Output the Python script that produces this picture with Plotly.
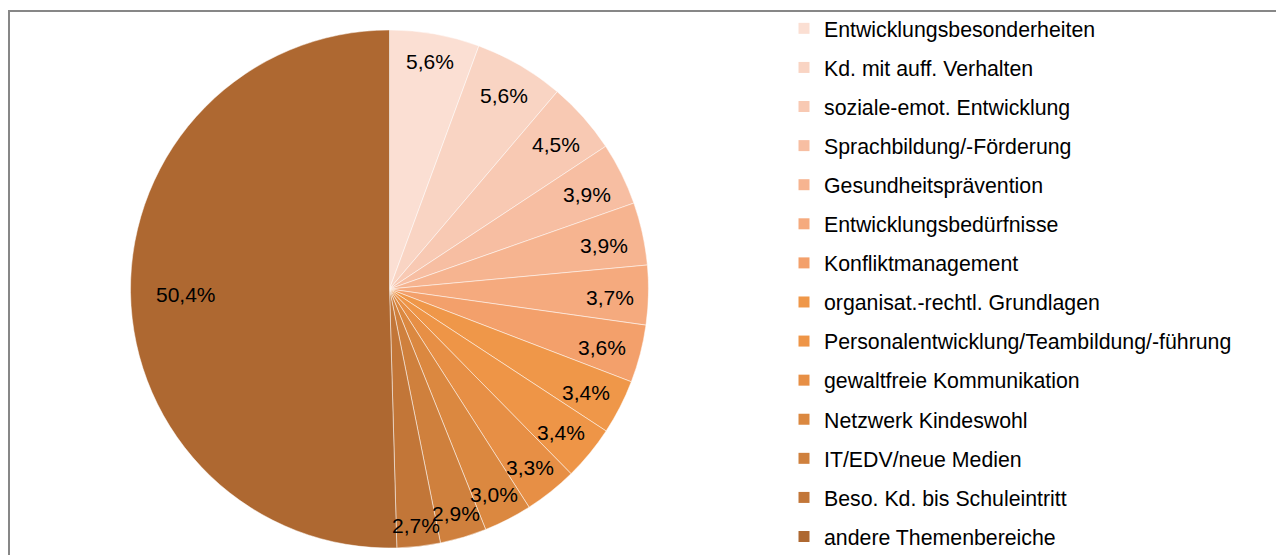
import math
import plotly.graph_objects as go

# Themenbereiche und Anteile (in %)
labels = [
    "Entwicklungsbesonderheiten",
    "Kd. mit auff. Verhalten",
    "soziale-emot. Entwicklung",
    "Sprachbildung/-Förderung",
    "Gesundheitsprävention",
    "Entwicklungsbedürfnisse",
    "Konfliktmanagement",
    "organisat.-rechtl. Grundlagen",
    "Personalentwicklung/Teambildung/-führung",
    "gewaltfreie Kommunikation",
    "Netzwerk Kindeswohl",
    "IT/EDV/neue Medien",
    "Beso. Kd. bis Schuleintritt",
    "andere Themenbereiche",
]
values = [5.6, 5.6, 4.5, 3.9, 3.9, 3.7, 3.6, 3.4, 3.4, 3.3, 3.0, 2.9, 2.7, 50.4]
colors = [
    "#FBDFD3", "#F9D4C3", "#F8C9B3", "#F7BEA2", "#F6B490", "#F5AA7E", "#F3A06B",
    "#EF9749", "#EE9547", "#E78F45", "#DB8840", "#CF803D", "#C27638", "#AE6831",
]

# page has an 8px body margin, so the figure is a bit smaller than the window
W, H = 1276, 547
FONT = "Liberation Sans, Arial, sans-serif"

# pie geometry in figure pixels
cx, cy, rad = 381.5, 281, 259

def px_x(p):
    return p / W

def px_y(p):
    return 1 - p / H

fig = go.Figure()

fig.add_trace(go.Pie(
    labels=labels,
    values=values,
    sort=False,
    direction="clockwise",
    rotation=0,
    marker=dict(colors=colors, line=dict(color="rgba(255,255,255,0.7)", width=0.7)),
    textinfo="none",
    showlegend=False,
    domain=dict(x=[px_x(cx - rad), px_x(cx + rad)], y=[px_y(cy + rad), px_y(cy - rad)]),
    hoverinfo="label+percent",
))

# legend entries (one group each so the spacing can be set)
for lab, col in zip(labels, colors):
    fig.add_trace(go.Scatter(
        x=[None], y=[None],
        mode="markers",
        name=lab,
        legendgroup=lab,
        marker=dict(symbol="square", size=11, color=col),
        showlegend=True,
    ))

# data labels, Excel "best fit" style: on the slice's mid angle,
# box pushed out until it touches an inner ring
total = sum(values)
annotations = []
cum = 0
for v in values:
    mid = (cum + v / 2) / total * 2 * math.pi
    cum += v
    s, c = math.sin(mid), math.cos(mid)
    if v / total > 0.5:
        d = 0.785 * rad
    else:
        hx, hy = 23.4, 6
        d = 244 - (hx * abs(s) + hy * abs(c))
    annotations.append(dict(
        x=px_x(cx + d * s), y=px_y(cy - d * c), xref="paper", yref="paper",
        xanchor="center", yanchor="middle", yshift=-3,
        text=f"{v:.1f}%".replace(".", ","),
        showarrow=False,
        font=dict(family=FONT, size=21, color="#000000"),
    ))

fig.update_layout(
    width=W,
    height=H,
    margin=dict(l=0, r=0, t=0, b=0),
    paper_bgcolor="white",
    plot_bgcolor="white",
    xaxis=dict(visible=False),
    yaxis=dict(visible=False),
    legend=dict(
        x=px_x(776), y=px_y(1),
        xanchor="left", yanchor="top",
        font=dict(family=FONT, size=21.3, color="#000000"),
        tracegroupgap=8.4,
        maxheight=700,
        bgcolor="rgba(0,0,0,0)",
    ),
    annotations=annotations,
    shapes=[dict(
        type="rect", xref="paper", yref="paper",
        x0=px_x(1), x1=1.02, y0=-0.02, y1=px_y(3),
        line=dict(color="#878787", width=2),
        layer="above",
    )],
)

fig.write_html("out.html")
